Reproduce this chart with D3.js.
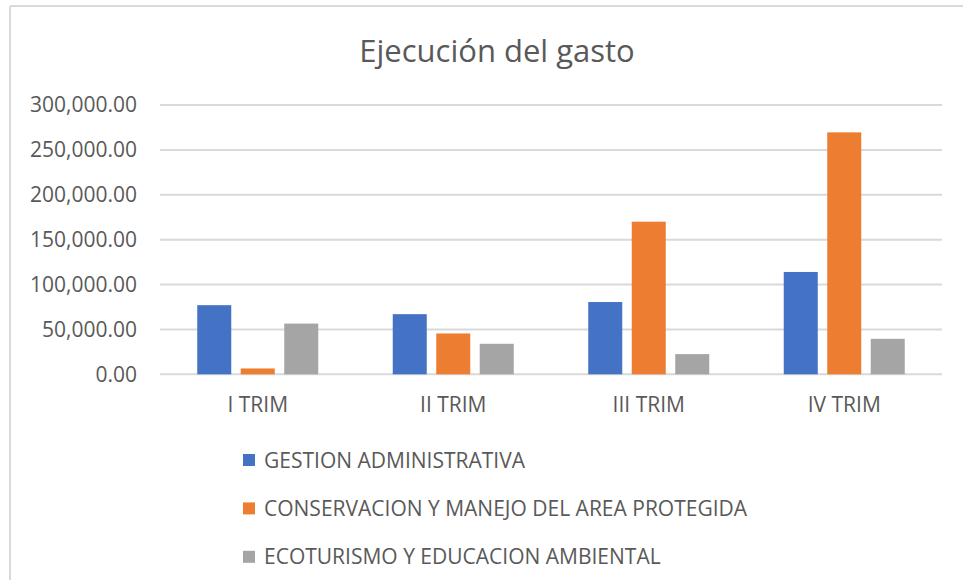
<!DOCTYPE html>
<html>
<head>
<meta charset="utf-8">
<script src="https://cdn.jsdelivr.net/npm/d3@7"></script>
<style>
  html, body { margin: 0; padding: 0; background: #fff; }
  svg { display: block; font-family: "Open Sans", "Noto Sans", sans-serif; }
</style>
</head>
<body>
<svg id="chart"></svg>
<script>
const categories = ['I TRIM', 'II TRIM', 'III TRIM', 'IV TRIM'];
const seriesNames = [
    'GESTION ADMINISTRATIVA',
    'CONSERVACION Y MANEJO DEL AREA PROTEGIDA',
    'ECOTURISMO Y EDUCACION AMBIENTAL'
];
const gestion = [77000, 67000, 80500, 114000];
const conservacion = [6500, 45500, 170000, 269500];
const ecoturismo = [56500, 34000, 22500, 39500];
const yTicks = [0, 50000, 100000, 150000, 200000, 250000, 300000];
const colors = ['#4472c4', '#ed7d31', '#a5a5a5'];

const seriesValues = [gestion, conservacion, ecoturismo];

const width = 963, height = 580;
const margin = { top: 105, right: 21, bottom: 206, left: 160 };
const groupWidth = 121;

const svg = d3.select('#chart')
    .attr('width', width)
    .attr('height', height);

// outer frame (only top and left edges are visible in the crop)
svg.append('line')
    .attr('x1', 10).attr('x2', width).attr('y1', 6).attr('y2', 6)
    .attr('stroke', '#d9d9d9').attr('stroke-width', 2);
svg.append('line')
    .attr('x1', 10).attr('x2', 10).attr('y1', 6).attr('y2', height)
    .attr('stroke', '#d9d9d9').attr('stroke-width', 2);

svg.append('text')
    .attr('x', 497)
    .attr('y', 62)
    .attr('text-anchor', 'middle')
    .attr('fill', '#595959')
    .style('font-size', '31px')
    .text('Ejecución del gasto');

const x = d3.scaleBand()
    .domain(categories)
    .range([margin.left, width - margin.right]);

const y = d3.scaleLinear()
    .domain([0, 300000])
    .range([374.3, margin.top]);

const xInner = d3.scaleBand()
    .domain(d3.range(seriesNames.length))
    .range([0, groupWidth])
    .paddingInner(0.218);

// gridlines + y axis labels
const yAxis = d3.axisLeft(y)
    .tickValues(yTicks)
    .tickSize(0)
    .tickPadding(23)
    .tickFormat(d3.format(',.2f'));

const gy = svg.append('g')
    .attr('transform', `translate(${margin.left},0)`)
    .call(yAxis);
gy.select('.domain').remove();
gy.selectAll('text')
    .attr('fill', '#595959')
    .style('font-size', '21px')
    .style('font-family', '"Open Sans", sans-serif');

svg.append('g')
    .selectAll('line')
    .data(yTicks)
    .join('line')
    .attr('x1', margin.left)
    .attr('x2', width - margin.right)
    .attr('y1', d => y(d))
    .attr('y2', d => y(d))
    .attr('stroke', '#d9d9d9')
    .attr('stroke-width', 2);

// bars
const groups = svg.append('g')
    .selectAll('g')
    .data(categories)
    .join('g')
    .attr('transform', (d) => `translate(${x(d) + (x.bandwidth() - groupWidth) / 2},0)`);

groups.selectAll('rect')
    .data((d, i) => seriesValues.map((vals, s) => ({ s: s, value: vals[i] })))
    .join('rect')
    .attr('x', d => xInner(d.s))
    .attr('width', xInner.bandwidth())
    .attr('y', d => y(d.value))
    .attr('height', d => y(0) - y(d.value))
    .attr('fill', d => colors[d.s]);

// category axis
const xAxis = d3.axisBottom(x).tickSize(0).tickPadding(23);
const gx = svg.append('g')
    .attr('transform', 'translate(0,374.3)')
    .call(xAxis);
gx.select('.domain').remove();
gx.selectAll('text')
    .attr('fill', '#595959')
    .style('font-size', '21px')
    .style('font-family', '"Open Sans", sans-serif');

// legend
const legend = svg.append('g')
    .selectAll('g')
    .data(seriesNames)
    .join('g')
    .attr('transform', (d, i) => `translate(243,${460 + i * 48.4})`);

legend.append('rect')
    .attr('x', 0)
    .attr('y', -6)
    .attr('width', 12)
    .attr('height', 12)
    .attr('fill', (d, i) => colors[i]);

legend.append('text')
    .attr('x', 21)
    .attr('y', 0)
    .attr('dy', '0.36em')
    .attr('fill', '#595959')
    .style('font-size', '21px')
    .text(d => d);
</script>
</body>
</html>
